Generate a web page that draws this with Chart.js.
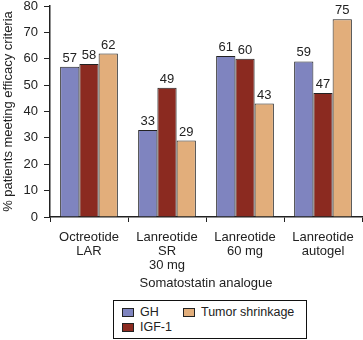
<!DOCTYPE html>
<html>
<head>
<meta charset="utf-8">
<script src="https://cdn.jsdelivr.net/npm/chart.js@4.4.1/dist/chart.umd.min.js"></script>
<style>
  html, body { margin: 0; padding: 0; background: #fff; }
  body { width: 363px; height: 340px; position: relative; overflow: hidden;
         font-family: "Liberation Sans", Arial, sans-serif; color: #222; }
  #wrap { position: absolute; left: 0; top: 0; width: 363px; height: 291px; }
  #legend { position: absolute; left: 113px; top: 300px; width: 194px; height: 39px;
            border: 1px solid #111; box-sizing: border-box; font-size: 12.5px; }
  #legend .item { position: absolute; display: flex; align-items: center; white-space: nowrap; }
  #legend .sw { width: 10px; height: 7px; border: 1px solid #222; margin-right: 6px; }
</style>
</head>
<body>
<div id="wrap"><canvas id="chart"></canvas></div>
<div id="legend"></div>
<script>
// categories and series
const categories = [
  ['Octreotide', 'LAR'],
  ['Lanreotide', 'SR', '30 mg'],
  ['Lanreotide', '60 mg'],
  ['Lanreotide', 'autogel']
];
const seriesNames = ['GH', 'IGF-1', 'Tumor shrinkage'];
const ghValues = [57, 33, 61, 59];
const igfValues = [58, 49, 60, 47];
const tumorValues = [62, 29, 43, 75];
const seriesColors = ['#7f84bf', '#8b2a20', '#e2ae7b'];
const yTicks = [0, 10, 20, 30, 40, 50, 60, 70, 80];

const FONT = '"Liberation Sans", Arial, sans-serif';

// value labels above each bar
const barLabels = {
  id: 'barLabels',
  afterDatasetsDraw(chart) {
    const ctx = chart.ctx;
    ctx.save();
    ctx.font = '13px ' + FONT;
    ctx.fillStyle = '#222';
    ctx.textAlign = 'center';
    ctx.textBaseline = 'bottom';
    chart.data.datasets.forEach((ds, i) => {
      chart.getDatasetMeta(i).data.forEach((bar, j) => {
        ctx.fillText(ds.data[j], bar.x, bar.y - 2);
      });
    });
    ctx.restore();
  }
};

const datasets = [ghValues, igfValues, tumorValues].map((vals, i) => ({
  label: seriesNames[i],
  data: vals,
  backgroundColor: seriesColors[i],
  borderColor: '#222',
  borderWidth: 1,
  borderSkipped: 'bottom'
}));

new Chart(document.getElementById('chart'), {
  type: 'bar',
  data: { labels: categories, datasets },
  plugins: [barLabels],
  options: {
    responsive: true,
    maintainAspectRatio: false,
    animation: false,
    categoryPercentage: 0.74,
    barPercentage: 1.0,
    layout: { padding: { top: 6, right: 1, left: 0, bottom: 0 } },
    plugins: { legend: { display: false }, tooltip: { enabled: false } },
    scales: {
      x: {
        grid: { drawOnChartArea: false, offset: true, color: '#222', tickLength: 5, tickColor: '#222' },
        border: { color: '#222', width: 1.5 },
        ticks: { color: '#222', font: { size: 13, family: FONT, lineHeight: 1.1 }, padding: 8, maxRotation: 0, autoSkip: false },
        title: { display: true, text: 'Somatostatin analogue', color: '#222', font: { size: 13, family: FONT }, padding: { top: 0, bottom: 0 } },
        afterFit(scale) { scale.height = 74; }
      },
      y: {
        min: 0, max: 80,
        afterBuildTicks(scale) { scale.ticks = yTicks.map(v => ({ value: v })); },
        grid: { drawOnChartArea: false, color: '#222', tickLength: 6, tickColor: '#222' },
        border: { color: '#222', width: 1.5 },
        ticks: { color: '#222', font: { size: 13, family: FONT }, padding: 6 },
        title: { display: true, text: '% patients meeting efficacy criteria', color: '#222', font: { size: 13, family: FONT }, padding: { top: 1, bottom: 0 } },
        afterFit(scale) { scale.width = 50; scale.paddingTop = 0; scale.paddingBottom = 0; }
      }
    }
  }
});

// html legend built from the series arrays
const legend = document.getElementById('legend');
const pos = [[8, 4], [8, 19], [69, 4]];
seriesNames.forEach((name, i) => {
  const it = document.createElement('div');
  it.className = 'item';
  it.style.left = pos[i][0] + 'px';
  it.style.top = pos[i][1] + 'px';
  it.innerHTML = '<span class="sw" style="background:' + seriesColors[i] + '"></span>' + name;
  legend.appendChild(it);
});
</script>
</body>
</html>
